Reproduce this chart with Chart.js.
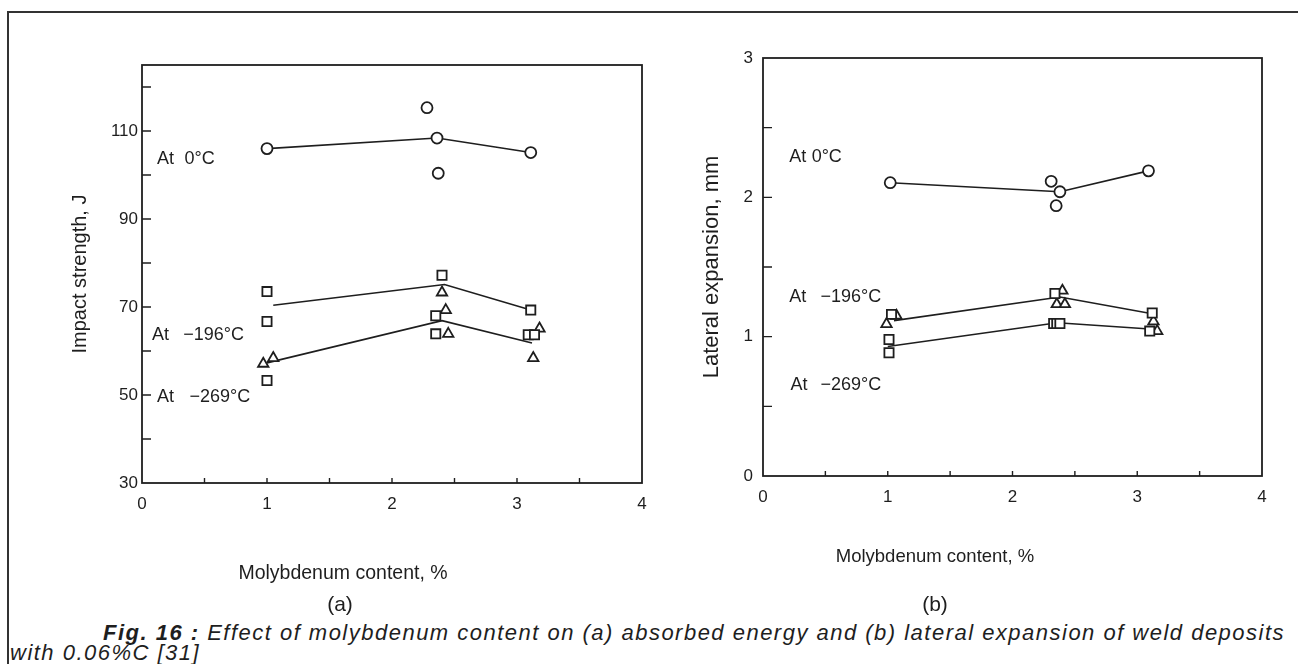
<!DOCTYPE html>
<html>
<head>
<meta charset="utf-8">
<script src="https://cdn.jsdelivr.net/npm/chart.js@4.4.0/dist/chart.umd.min.js"></script>
<style>
  html, body { margin: 0; padding: 0; background: #fff; }
  body { width: 1298px; height: 664px; position: relative; overflow: hidden;
         font-family: "Liberation Sans", Arial, sans-serif; color: #1e1e1e; }
  .frame { position: absolute; left: 7px; top: 11px; width: 1300px; height: 700px;
           border-left: 2px solid #333; border-top: 2px solid #333; }
  #wrapA { position: absolute; left: 0; top: 0; }
  #wrapB { position: absolute; left: 690px; top: 0; }
  .mid { position: absolute; transform: translate(-50%, -50%); white-space: nowrap; }
  .sub { top: 604px; font-size: 21px; }
  .cap { position: absolute; font-style: italic; font-size: 22px; white-space: nowrap; line-height: 20px; }
</style>
</head>
<body>
<div class="frame"></div>
<div id="wrapA"><canvas id="chartA" width="690" height="600"></canvas></div>
<div id="wrapB"><canvas id="chartB" width="608" height="600"></canvas></div>
<span class="mid" style="left:343px; top:572px; font-size:19.5px">Molybdenum content, %</span>
<span class="mid" style="left:935px; top:556px; font-size:18.5px">Molybdenum content, %</span>
<span class="mid sub" style="left:340px">(a)</span>
<span class="mid sub" style="left:935px">(b)</span>
<span class="cap" id="cap1" style="left:103px; top:623px"><b>Fig. 16 :</b> Effect of molybdenum content on (a) absorbed energy and (b) lateral expansion of weld deposits</span>
<span class="cap" id="cap2" style="left:10px; top:643px">with 0.06%C [31]</span>
<script>
// ---- (a) impact strength, J ----
const circA_x = [1.0, 2.28, 2.36, 2.37, 3.11];
const circA_y = [106, 115.3, 108.4, 100.4, 105.1];
const line0A_x = [1.0, 2.36, 3.11];
const line0A_y = [106, 108.4, 105.1];
const sqA_x = [1.0, 1.0, 1.0, 2.40, 2.35, 2.35, 3.11, 3.09, 3.14];
const sqA_y = [73.5, 66.7, 53.3, 77.2, 68.0, 63.9, 69.3, 63.7, 63.7];
const triA_x = [0.97, 1.05, 2.40, 2.43, 2.45, 3.13, 3.18];
const triA_y = [57.1, 58.4, 73.3, 69.3, 63.9, 58.4, 65.1];
const line196A_x = [1.05, 2.42, 3.11];
const line196A_y = [70.4, 75.1, 69.3];
const line269A_x = [1.0, 2.40, 3.12];
const line269A_y = [57.3, 66.9, 61.8];

// ---- (b) lateral expansion, mm ----
const circB_x = [1.02, 2.31, 2.38, 2.35, 3.09];
const circB_y = [2.105, 2.115, 2.04, 1.94, 2.19];
const line0B_x = [1.02, 2.38, 3.09];
const line0B_y = [2.105, 2.04, 2.19];
const sqB_x = [1.03, 1.01, 1.01, 2.34, 2.33, 2.355, 2.38, 3.12, 3.10];
const sqB_y = [1.16, 0.98, 0.885, 1.31, 1.095, 1.095, 1.095, 1.17, 1.04];
const triB_x = [1.07, 0.99, 2.40, 2.355, 2.42, 3.16, 3.13];
const triB_y = [1.15, 1.09, 1.33, 1.233, 1.233, 1.04, 1.11];
const line196B_x = [1.05, 2.38, 3.12];
const line196B_y = [1.115, 1.285, 1.165];
const line269B_x = [1.0, 2.36, 3.10];
const line269B_y = [0.93, 1.10, 1.055];

// axis ticks
const xTickMin = 0, xTickMax = 4, xStep = 0.5;
const yA_min = 30, yA_max = 125, yA_step = 10, yA_labels = [30, 50, 70, 90, 110];
const yB_min = 0, yB_max = 3, yB_step = 0.5, yB_labels = [0, 1, 2, 3];

// temperature notes
const notesA = [
  { temp: '0°C', atX: 0.12, valX: 0.34, y: 103.6 },
  { temp: '−196°C', atX: 0.08, valX: 0.33, y: 63.6 },
  { temp: '−269°C', atX: 0.12, valX: 0.38, y: 49.5 }
];
const notesB = [
  { temp: '0°C', atX: 0.21, valX: 0.39, y: 2.29 },
  { temp: '−196°C', atX: 0.21, valX: 0.46, y: 1.285 },
  { temp: '−269°C', atX: 0.22, valX: 0.46, y: 0.653 }
];

const INK = '#1e1e1e';
const FONT = 'Liberation Sans, Arial, sans-serif';

function pts(xs, ys) { return xs.map((x, i) => ({ x: x, y: ys[i] })); }

function markers(xs, ys, style, r) {
  return {
    data: pts(xs, ys), showLine: false, order: 0,
    pointStyle: style, pointRadius: r, pointHoverRadius: r,
    pointBorderWidth: 1.8, pointBorderColor: INK, pointBackgroundColor: '#fff'
  };
}
function trend(xs, ys) {
  return { data: pts(xs, ys), showLine: true, pointRadius: 0, borderColor: INK, borderWidth: 1.6, order: 1 };
}

// box round the plot with inward ticks
const framePlugin = {
  id: 'frame',
  beforeDatasetsDraw(chart, args, opts) {
    const { ctx, chartArea: a } = chart;
    const sx = chart.scales.x, sy = chart.scales.y;
    ctx.save();
    ctx.strokeStyle = INK;
    ctx.lineWidth = 1.8;
    ctx.strokeRect(a.left, a.top, a.right - a.left, a.bottom - a.top);
    ctx.lineWidth = 1.4;
    ctx.beginPath();
    sx.ticks.forEach(t => {
      if (t.value <= sx.min || t.value >= sx.max) return;
      const p = sx.getPixelForValue(t.value);
      ctx.moveTo(p, a.bottom); ctx.lineTo(p, a.bottom - opts.xLen);
    });
    sy.ticks.forEach(t => {
      if (t.value <= sy.min || t.value >= sy.max) return;
      const p = sy.getPixelForValue(t.value);
      ctx.moveTo(a.left, p); ctx.lineTo(a.left + opts.yLen, p);
    });
    ctx.stroke();
    ctx.restore();
  }
};

const notesPlugin = {
  id: 'notes',
  afterDatasetsDraw(chart, args, opts) {
    const { ctx } = chart;
    const sx = chart.scales.x, sy = chart.scales.y;
    ctx.save();
    ctx.fillStyle = INK;
    ctx.font = '18px ' + FONT;
    ctx.textBaseline = 'middle';
    ctx.textAlign = 'left';
    opts.items.forEach(n => {
      const py = sy.getPixelForValue(n.y);
      ctx.fillText('At', sx.getPixelForValue(n.atX), py);
      ctx.fillText(n.temp, sx.getPixelForValue(n.valX), py);
    });
    ctx.restore();
  }
};

function panel(id, cfg) {
  return new Chart(document.getElementById(id), {
    type: 'scatter',
    data: { datasets: cfg.datasets },
    plugins: [framePlugin, notesPlugin],
    options: {
      responsive: false,
      animation: false,
      events: [],
      layout: { padding: cfg.padding },
      plugins: {
        legend: { display: false },
        tooltip: { enabled: false },
        frame: { xLen: 5, yLen: 9 },
        notes: { items: cfg.notes }
      },
      scales: {
        x: {
          type: 'linear', min: xTickMin, max: xTickMax,
          grid: { display: false, drawTicks: false }, border: { display: false },
          ticks: {
            stepSize: xStep, autoSkip: false, maxRotation: 0, padding: cfg.xPad,
            color: INK, font: { family: FONT, size: 17 },
            callback: v => Number.isInteger(v) ? String(v) : ''
          },
          afterFit: s => { s.height = cfg.xH; }
        },
        y: {
          type: 'linear', min: cfg.yMin, max: cfg.yMax,
          grid: { display: false, drawTicks: false }, border: { display: false },
          ticks: {
            stepSize: cfg.yStep, autoSkip: false, includeBounds: false, padding: cfg.yPad,
            color: INK, font: { family: FONT, size: 17 },
            callback: v => cfg.yLabels.includes(v) ? String(v) : ''
          },
          title: { display: true, text: cfg.yTitle, color: INK,
                   font: { family: FONT, size: cfg.yTitleSize }, padding: { top: cfg.yTitlePad, bottom: 0 } },
          afterFit: s => { s.width = cfg.yW; }
        }
      }
    }
  });
}

panel('chartA', {
  datasets: [
    markers(circA_x, circA_y, 'circle', 5.5),
    markers(sqA_x, sqA_y, 'rect', 6.5),
    markers(triA_x, triA_y, 'triangle', 6),
    trend(line0A_x, line0A_y),
    trend(line196A_x, line196A_y),
    trend(line269A_x, line269A_y)
  ],
  notes: notesA,
  padding: { left: 0, top: 65, right: 48, bottom: 0 },
  yW: 142, xH: 117, xPad: 11, yPad: 4, yTitlePad: 68, yTitleSize: 20,
  yMin: yA_min, yMax: yA_max, yStep: yA_step, yLabels: yA_labels,
  yTitle: 'Impact strength, J'
});

panel('chartB', {
  datasets: [
    markers(circB_x, circB_y, 'circle', 5.5),
    markers(sqB_x, sqB_y, 'rect', 6.5),
    markers(triB_x, triB_y, 'triangle', 6),
    trend(line0B_x, line0B_y),
    trend(line196B_x, line196B_y),
    trend(line269B_x, line269B_y)
  ],
  notes: notesB,
  padding: { left: 0, top: 58, right: 36, bottom: 0 },
  yW: 73, xH: 124, xPad: 11, yPad: 10, yTitlePad: 9, yTitleSize: 22,
  yMin: yB_min, yMax: yB_max, yStep: yB_step, yLabels: yB_labels,
  yTitle: 'Lateral expansion, mm'
});

// stretch the caption to the width of the printed one
const cap1 = document.getElementById('cap1');
const cap2 = document.getElementById('cap2');
const natural = cap1.getBoundingClientRect().width;
const spacing = (1182 - natural) / cap1.textContent.length;
cap1.style.letterSpacing = spacing + 'px';
cap2.style.letterSpacing = spacing + 'px';
</script>
</body>
</html>
